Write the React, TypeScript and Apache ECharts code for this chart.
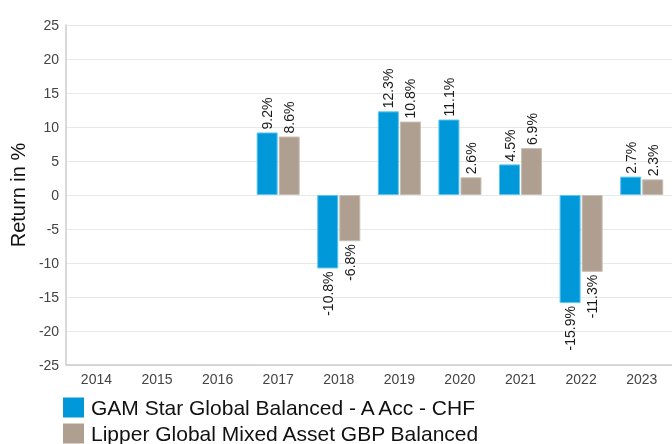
import React, { useEffect, useRef } from "react";
import * as echarts from "echarts";

const years = ["2014", "2015", "2016", "2017", "2018", "2019", "2020", "2021", "2022", "2023"];
const gamStar: (number | null)[] = [null, null, null, 9.2, -10.8, 12.3, 11.1, 4.5, -15.9, 2.7];
const lipper: (number | null)[] = [null, null, null, 8.6, -6.8, 10.8, 2.6, 6.9, -11.3, 2.3];
const seriesNames = ["GAM Star Global Balanced - A Acc - CHF", "Lipper Global Mixed Asset GBP Balanced"];
const yTicks = { min: -25, max: 25, interval: 5 };

const FONT = "'Liberation Sans', Arial, sans-serif";

function toItems(vals: (number | null)[]) {
  return vals.map((v) => {
    if (v === null) return { value: null };
    const neg = v < 0;
    return {
      value: v,
      label: {
        position: neg ? "bottom" : "top",
        align: neg ? "right" : "left",
      },
    };
  });
}

export default function App() {
  const ref = useRef<HTMLDivElement>(null);
  useEffect(() => {
    if (!ref.current) return;
    const chart = echarts.init(ref.current, undefined, { renderer: "svg" });
    const label = {
      show: true,
      rotate: 90,
      verticalAlign: "middle",
      distance: 3,
      fontSize: 14,
      color: "#1a1a1a",
      fontFamily: FONT,
      formatter: (p: any) => (p.value == null ? "" : `${Number(p.value).toFixed(1)}%`),
    };
    const legendBase = {
      orient: "vertical",
      left: 63,
      padding: 0,
      itemWidth: 21,
      itemHeight: 20,
      icon: "rect",
      itemStyle: { borderWidth: 0 },
      textStyle: { fontSize: 21, color: "#111", fontFamily: FONT, padding: [0, 0, 0, 2] },
    };
    chart.setOption({
      animation: false,
      textStyle: { fontFamily: FONT },
      grid: { left: 65, right: 0, top: 25, bottom: 79, containLabel: false },
      legend: [
        { ...legendBase, top: 397, data: [seriesNames[0]] },
        { ...legendBase, top: 423, data: [seriesNames[1]] },
      ],
      xAxis: {
        type: "category",
        data: years,
        axisLine: { onZero: false, lineStyle: { color: "#cccccc", width: 1.5 } },
        axisTick: { show: false },
        axisLabel: { fontSize: 14, color: "#444", margin: 7, fontFamily: FONT },
      },
      yAxis: {
        type: "value",
        min: yTicks.min,
        max: yTicks.max,
        interval: yTicks.interval,
        name: "Return in %",
        nameLocation: "middle",
        nameGap: 38,
        nameTextStyle: { fontSize: 20, color: "#111", fontFamily: FONT },
        axisLine: { show: true, lineStyle: { color: "#cccccc", width: 1.5 } },
        axisTick: { show: false },
        axisLabel: { fontSize: 14, color: "#444", margin: 7, fontFamily: FONT },
        splitLine: { lineStyle: { color: "#e8e8e8", width: 1 } },
      },
      series: [
        {
          name: seriesNames[0],
          type: "bar",
          data: toItems(gamStar),
          barWidth: 21,
          barGap: "5%",
          itemStyle: { color: "#0098d8", borderColor: "#5cc6f2", borderWidth: 1 },
          label,
        },
        {
          name: seriesNames[1],
          type: "bar",
          data: toItems(lipper),
          barWidth: 21,
          barGap: "5%",
          itemStyle: { color: "#ae9f90", borderColor: "#c9beb3", borderWidth: 1 },
          label,
        },
      ],
    });
    return () => chart.dispose();
  }, []);
  return (
    <div
      ref={ref}
      style={{ position: "fixed", left: 0, top: 0, width: 672, height: 444 }}
    />
  );
}
